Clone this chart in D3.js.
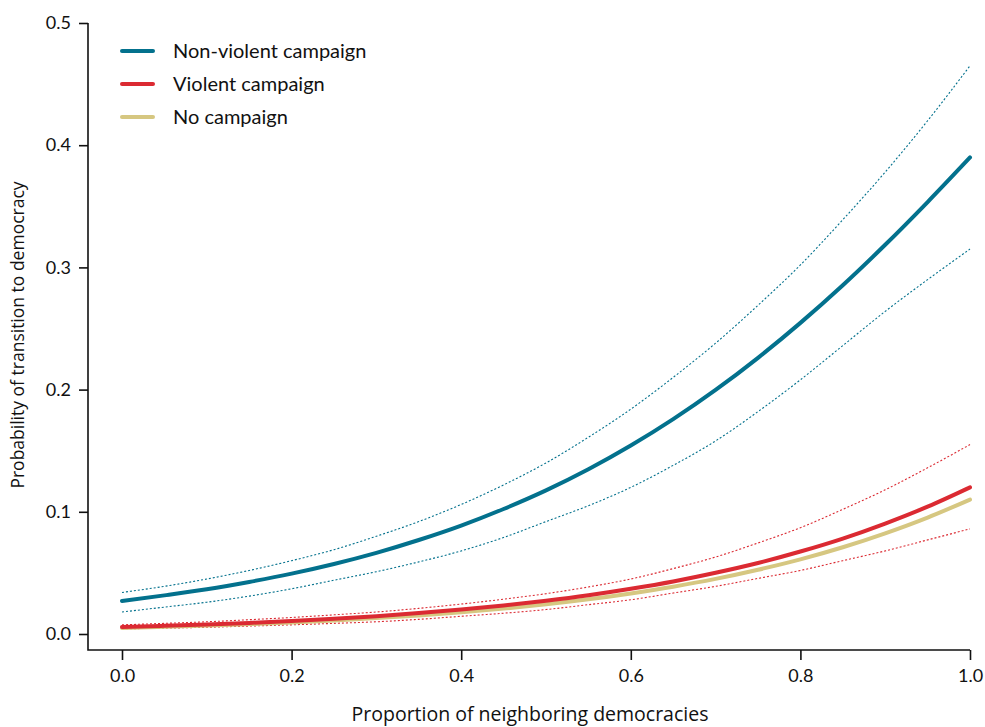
<!DOCTYPE html>
<html>
<head>
<meta charset="utf-8">
<script src="https://cdn.jsdelivr.net/npm/d3@7"></script>
<style>
  body { margin: 0; background: #fff; }
  svg { display: block; }
  .tick text { font-family: Lato, "Open Sans", sans-serif; font-size: 18px; fill: #111; }
  .title { font-family: "Open Sans", sans-serif; fill: #111; }
  .legend text { font-family: Lato, "Open Sans", sans-serif; font-size: 20px; fill: #111; }
</style>
</head>
<body>
<script>
// Proportion of neighboring democracies (x) at 0.05 steps
const xs = d3.range(21).map(i => i / 20);

// Non-violent campaign: estimate and dotted interval
const nonviolent = [0.0270, 0.0316, 0.0366, 0.0426, 0.0494, 0.0573, 0.0664, 0.0769, 0.0887, 0.1023, 0.1175,
                    0.1348, 0.1542, 0.1758, 0.1997, 0.2260, 0.2546, 0.2854, 0.3185, 0.3535, 0.3900];
const nonviolentHi = [0.034, 0.039, 0.045, 0.052, 0.060, 0.069, 0.080, 0.092, 0.106, 0.122, 0.140,
                      0.161, 0.184, 0.210, 0.238, 0.269, 0.302, 0.339, 0.378, 0.420, 0.465];
const nonviolentLo = [0.018, 0.022, 0.026, 0.031, 0.037, 0.044, 0.051, 0.059, 0.068, 0.079, 0.092,
                      0.105, 0.120, 0.138, 0.158, 0.182, 0.208, 0.236, 0.264, 0.290, 0.315];

// Violent campaign
const violent = [0.0057, 0.0067, 0.0078, 0.0091, 0.0107, 0.0125, 0.0146, 0.0171, 0.0200, 0.0233, 0.0272,
                 0.0317, 0.0370, 0.0430, 0.0501, 0.0581, 0.0675, 0.0781, 0.0904, 0.1042, 0.1200];
const violentHi = [0.0075, 0.0087, 0.0100, 0.0117, 0.0135, 0.0157, 0.0180, 0.0210, 0.0245, 0.0285, 0.0330,
                   0.0385, 0.0450, 0.0535, 0.0630, 0.0745, 0.0870, 0.1020, 0.1180, 0.1360, 0.1550];
const violentLo = [0.0042, 0.0048, 0.0055, 0.0065, 0.0075, 0.0087, 0.0100, 0.0120, 0.0145, 0.0170, 0.0200,
                   0.0240, 0.0280, 0.0335, 0.0390, 0.0455, 0.0520, 0.0600, 0.0680, 0.0770, 0.0860];

// No campaign
const nocampaign = [0.0050, 0.0059, 0.0069, 0.0081, 0.0094, 0.0111, 0.0130, 0.0152, 0.0178, 0.0208, 0.0243,
                    0.0284, 0.0332, 0.0387, 0.0451, 0.0526, 0.0611, 0.0710, 0.0824, 0.0953, 0.1100];

const xTicks = [0, 0.2, 0.4, 0.6, 0.8, 1.0];
const yTicks = [0, 0.1, 0.2, 0.3, 0.4, 0.5];
const legendLabels = ["Non-violent campaign", "Violent campaign", "No campaign"];

const colors = { nonviolent: "#03718d", violent: "#db2a32", nocampaign: "#d6c781" };

const W = 985, H = 727;
const svg = d3.select("body").append("svg").attr("width", W).attr("height", H);

const x = d3.scaleLinear().domain([0, 1]).range([122, 970]);
const y = d3.scaleLinear().domain([0, 0.5]).range([634, 23]);
const axisX = 88, axisY = 650;

// Frame: L-shaped axes lines
svg.append("path")
  .attr("d", `M${axisX},${y(0.5)}V${axisY}H${x(1)}`)
  .attr("fill", "none").attr("stroke", "#111").attr("stroke-width", 1.6);

// X axis ticks
const gx = svg.append("g").attr("transform", `translate(0,${axisY})`)
  .call(d3.axisBottom(x).tickValues(xTicks).tickFormat(d3.format(".1f")).tickSize(10).tickPadding(9));
gx.select(".domain").remove();
gx.selectAll(".tick line").attr("stroke", "#111").attr("stroke-width", 1.6);

// Y axis ticks
const gy = svg.append("g").attr("transform", `translate(${axisX},0)`)
  .call(d3.axisLeft(y).tickValues(yTicks).tickFormat(d3.format(".1f")).tickSize(9).tickPadding(8));
gy.select(".domain").remove();
gy.selectAll(".tick line").attr("stroke", "#111").attr("stroke-width", 1.6);

// Axis titles
svg.append("text").attr("class", "title")
  .attr("x", 530).attr("y", 721).attr("text-anchor", "middle").style("font-size", "19.5px")
  .text("Proportion of neighboring democracies");
svg.append("text").attr("class", "title")
  .attr("transform", `translate(24,335) rotate(-90)`).attr("text-anchor", "middle").style("font-size", "17.5px")
  .text("Probability of transition to democracy");

const line = d3.line().x((d, i) => x(xs[i])).y(d => y(d)).curve(d3.curveMonotoneX);

function ci(vals, color) {
  svg.append("path").datum(vals).attr("d", line)
    .attr("fill", "none").attr("stroke", color).attr("stroke-width", 1.1)
    .attr("stroke-dasharray", "2,2");
}
function est(vals, color) {
  svg.append("path").datum(vals).attr("d", line)
    .attr("fill", "none").attr("stroke", color).attr("stroke-width", 4)
    .attr("stroke-linecap", "round");
}

ci(nonviolentHi, colors.nonviolent);
ci(nonviolentLo, colors.nonviolent);
ci(violentHi, colors.violent);
ci(violentLo, colors.violent);
est(nonviolent, colors.nonviolent);
est(nocampaign, colors.nocampaign);
est(violent, colors.violent);

// Legend
const lg = svg.append("g").attr("class", "legend");
const legendColors = [colors.nonviolent, colors.violent, colors.nocampaign];
legendLabels.forEach((lab, i) => {
  const ly = 51 + i * 33;
  lg.append("line").attr("x1", 122).attr("x2", 153).attr("y1", ly).attr("y2", ly)
    .attr("stroke", legendColors[i]).attr("stroke-width", 4).attr("stroke-linecap", "round");
  lg.append("text").attr("x", 173).attr("y", ly).attr("dy", "0.35em").text(lab);
});
</script>
</body>
</html>
